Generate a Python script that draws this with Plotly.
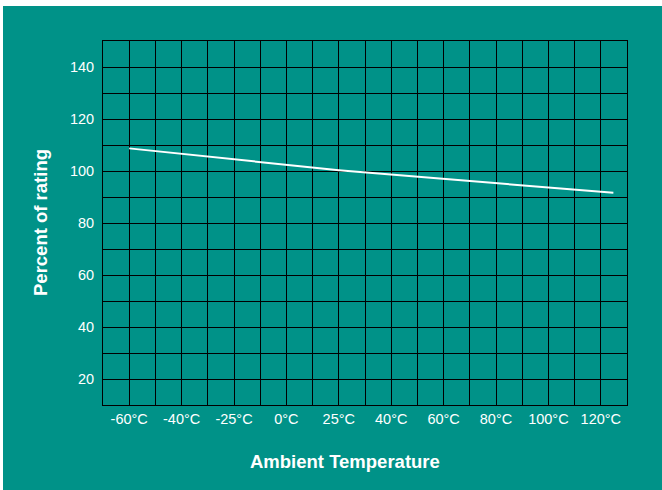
import plotly.graph_objects as go

# Data
temp_labels = ["-60°C", "-40°C", "-25°C", "0°C", "25°C", "40°C", "60°C", "80°C", "100°C", "120°C"]
y_tick_values = [20, 40, 60, 80, 100, 120, 140]
# derating curve: position along the (evenly spaced) temperature axis, percent of rating
curve_pos = [0, 4, 9.24]
curve_pct = [108.7, 100.3, 91.6]

TEAL = "#009288"
FONT = "Liberation Sans, Arial, sans-serif"

# gridlines every half category on x, every 10 on y
x_vals = [i * 0.5 for i in range(-1, 20)]
x_text = [temp_labels[int(v)] if v >= 0 and v == int(v) else "" for v in x_vals]
y_vals = list(range(10, 151, 10))
y_text = [str(v) if v in y_tick_values else "" for v in y_vals]

fig = go.Figure()
fig.add_trace(go.Scatter(x=curve_pos, y=curve_pct, mode="lines",
                         line=dict(color="white", width=2), showlegend=False,
                         hoverinfo="skip"))

fig.update_layout(
    width=662, height=490,
    margin=dict(l=103, r=35, t=41, b=85),
    paper_bgcolor="white",
    plot_bgcolor=TEAL,
    font=dict(family=FONT, color="white", size=14.5),
    shapes=[dict(type="rect", xref="paper", yref="paper",
                 x0=(3 - 103) / 524, x1=(665 - 103) / 524,
                 y0=(405 - 495) / 364, y1=(405 - 6) / 364,
                 fillcolor=TEAL, line=dict(width=0), layer="below")],
    xaxis=dict(range=[-0.5, 9.5], tickmode="array", tickvals=x_vals, ticktext=x_text,
               showgrid=True, gridcolor="black", gridwidth=1, zeroline=False,
               showline=True, linecolor="black", linewidth=1, mirror=True,
               ticks="", ticklabelstandoff=1, fixedrange=True),
    yaxis=dict(range=[10, 150], tickmode="array", tickvals=y_vals, ticktext=y_text,
               showgrid=True, gridcolor="black", gridwidth=1, zeroline=False,
               showline=True, linecolor="black", linewidth=1, mirror=True,
               ticks="", ticklabelstandoff=5, fixedrange=True),
    annotations=[
        dict(text="<b>Ambient Temperature</b>", xref="paper", yref="paper",
             x=(345 - 103) / 524, y=(405 - 462) / 364, showarrow=False,
             xanchor="center", yanchor="middle", font=dict(size=18.5, color="white")),
        dict(text="<b>Percent of rating</b>", xref="paper", yref="paper",
             x=(40 - 103) / 524, y=0.5, showarrow=False, textangle=-90,
             xanchor="center", yanchor="middle", font=dict(size=18.5, color="white")),
    ],
)

fig.write_html("out.html", config={"displayModeBar": False},
               post_script="document.body.style.margin='0';")
